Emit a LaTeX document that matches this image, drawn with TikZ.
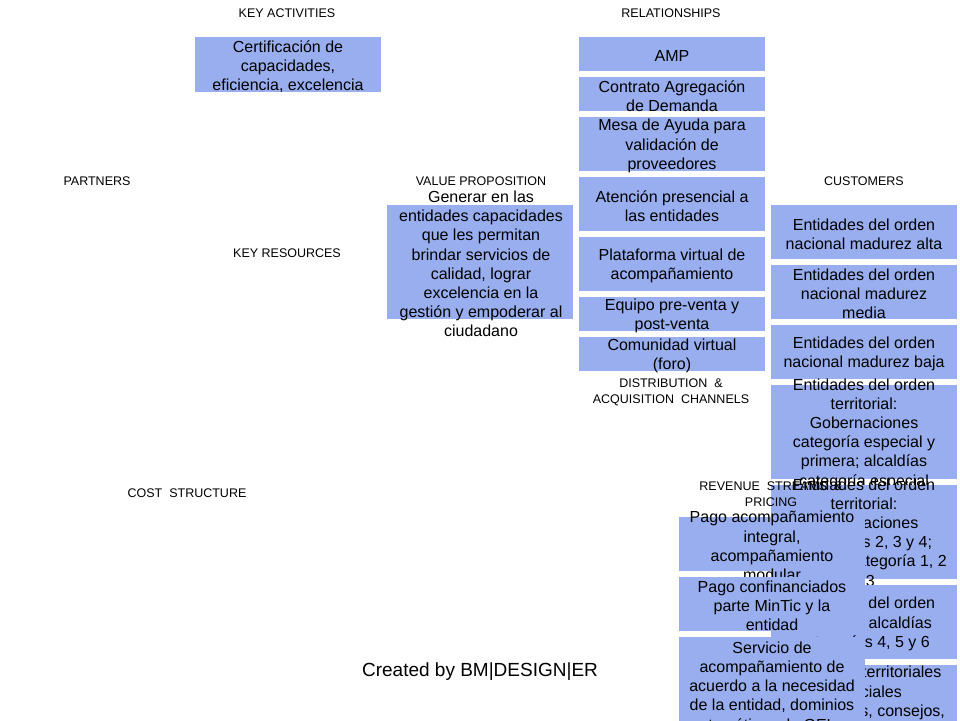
\documentclass[tikz,border=0pt]{standalone}
\usepackage{fontspec}
\setmainfont{Liberation Sans}
\definecolor{cellblue}{RGB}{152,174,238}
\tikzset{
  cell/.style={fill=cellblue, inner sep=0pt, minimum width=186pt},
  celltext/.style={align=center, inner sep=0pt, yshift=-2pt, font=\fontsize{16}{19.2}\selectfont},
  heading/.style={align=center, inner sep=0pt, font=\fontsize{12.5}{16}\selectfont},
}

\begin{document}
\begin{tikzpicture}[x=1pt,y=-1pt]
  \useasboundingbox (0,0) rectangle (960,720);

  % key activities
  \node[cell, minimum height=55pt] (act) at (288,64.5) {};
  \node[celltext] (act-t) at (act) {Certificación de\\capacidades,\\eficiencia, excelencia};

  % relationships
  \node[cell, minimum height=34pt] (rel1) at (672,54) {};
  \node[celltext] (rel1-t) at (rel1) {AMP};
  \node[cell, minimum height=34pt] (rel2) at (672,94) {};
  \node[celltext] (rel2-t) at (rel2) {Contrato Agregación\\de Demanda};
  \node[cell, minimum height=54pt] (rel3) at (672,144) {};
  \node[celltext] (rel3-t) at (rel3) {Mesa de Ayuda para\\validación de\\proveedores};
  \node[cell, minimum height=54pt] (rel4) at (672,204) {};
  \node[celltext] (rel4-t) at (rel4) {Atención presencial a\\las entidades};
  \node[cell, minimum height=54pt] (rel5) at (672,264) {};
  \node[celltext] (rel5-t) at (rel5) {Plataforma virtual de\\acompañamiento};
  \node[cell, minimum height=34pt] (rel6) at (672,314) {};
  \node[celltext] (rel6-t) at (rel6) {Equipo pre-venta y\\post-venta};
  \node[cell, minimum height=34pt] (rel7) at (672,354) {};
  \node[celltext] (rel7-t) at (rel7) {Comunidad virtual\\(foro)};

  % value proposition
  \node[cell, minimum height=114pt] (val) at (480,262) {};
  \node[celltext] (val-t) at (481,262) {Generar en las\\entidades capacidades\\que les permitan\\brindar servicios de\\calidad, lograr\\excelencia en la\\gestión y empoderar al\\ciudadano};

  % customers
  \node[cell, minimum height=54pt] (cus1) at (864,232) {};
  \node[celltext] (cus1-t) at (cus1) {Entidades del orden\\nacional madurez alta};
  \node[cell, minimum height=54pt] (cus2) at (864,292) {};
  \node[celltext] (cus2-t) at (cus2) {Entidades del orden\\nacional madurez\\media};
  \node[cell, minimum height=54pt] (cus3) at (864,352) {};
  \node[celltext] (cus3-t) at (cus3) {Entidades del orden\\nacional madurez baja};
  \node[cell, minimum height=94pt] (cus4) at (864,432) {};
  \node[celltext] (cus4-t) at (cus4) {Entidades del orden\\territorial:\\Gobernaciones\\categoría especial y\\primera; alcaldías\\categoría especial};
  \node[cell, minimum height=94pt] (cus5) at (864,532) {};
  \node[celltext] (cus5-t) at (cus5) {Entidades del orden\\territorial:\\Gobernaciones\\categorías 2, 3 y 4;\\alcaldías categoría 1, 2\\y 3};
  \node[cell, minimum height=74pt] (cus6) at (864,622) {};
  \node[celltext] (cus6-t) at (cus6) {Entidades del orden\\territorial: alcaldías\\categorías 4, 5 y 6};
  \node[cell, minimum height=94pt] (cus7) at (864,712) {};
  \node[celltext] (cus7-t) at (864,691) {Entidades territoriales\\especiales\\(resguardos, consejos,};

  % revenue streams
  \node[cell, minimum height=54pt] (rev1) at (772,544) {};
  \node[celltext] (rev1-t) at (rev1) {Pago acompañamiento\\integral,\\acompañamiento\\modular};
  \node[cell, minimum height=54pt] (rev2) at (772,604) {};
  \node[celltext] (rev2-t) at (rev2) {Pago confinanciados\\parte MinTic y la\\entidad};
  \node[cell, minimum height=94pt] (rev3) at (772,684) {};
  \node[celltext] (rev3-t) at (rev3) {Servicio de\\acompañamiento de\\acuerdo a la necesidad\\de la entidad, dominios\\temáticos de GEL};

  % block headings
  \node[heading] (h-act) at (287,13) {KEY ACTIVITIES};
  \node[heading] (h-rel) at (671,13) {RELATIONSHIPS};
  \node[heading] (h-par) at (97,181) {PARTNERS};
  \node[heading] (h-val) at (481,181) {VALUE PROPOSITION};
  \node[heading] (h-cus) at (864,181) {CUSTOMERS};
  \node[heading] (h-res) at (287,253) {KEY RESOURCES};
  \node[heading] (h-dis) at (671,392) {DISTRIBUTION \ \&\\ACQUISITION \ CHANNELS};
  \node[heading] (h-cos) at (187,493) {COST \ STRUCTURE};
  \node[heading] (h-rev) at (771,494) {REVENUE \ STREAMS \ \&\\PRICING};

  \node[font=\fontsize{19}{22}\selectfont, inner sep=0pt] (credit) at (480,672) {Created by BM|DESIGN|ER};
\end{tikzpicture}
\end{document}
